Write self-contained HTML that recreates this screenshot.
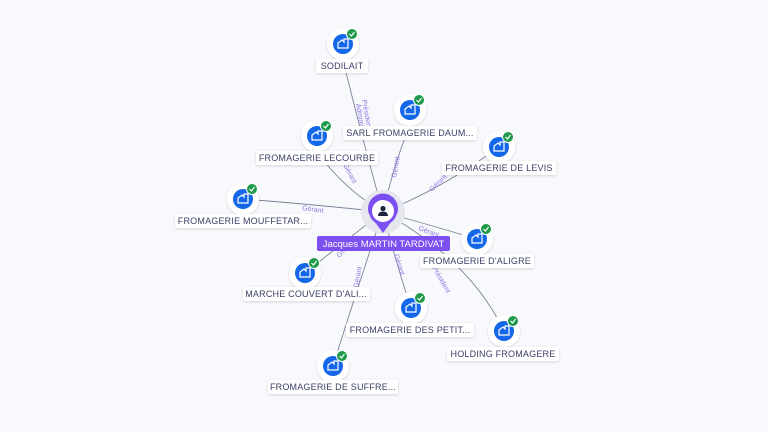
<!DOCTYPE html>
<html><head><meta charset="utf-8"><style>
html,body{margin:0;padding:0;background:#f8f9fd;}
svg{display:block;font-family:"Liberation Sans",sans-serif;}
.lbl{font-size:9px;fill:#3a3f66;letter-spacing:0.2px}
.el{font-size:7px;fill:#8a78e0}
</style></head><body>
<svg width="768" height="432" viewBox="0 0 768 432" xmlns="http://www.w3.org/2000/svg">
<defs>
<filter id="sh" x="-30%" y="-30%" width="160%" height="160%"><feDropShadow dx="0" dy="1" stdDeviation="1.2" flood-color="#000" flood-opacity="0.15"/></filter>
<g id="ic">
<circle r="16" fill="#fff" filter="url(#sh)"/>
<circle r="10" fill="#1467e8"/>
<path d="M-5,4 L-5,-1 L-1,-4 L1,-2 L1,-5 L5,-5 L5,4 Z" fill="none" stroke="#fff" stroke-width="1.2"/>
<circle cx="9" cy="-10" r="5.5" fill="#1f9a4b" stroke="#fff" stroke-width="1"/>
<path d="M6.5,-10 L8.5,-8 L11.5,-12" fill="none" stroke="#fff" stroke-width="1.2"/>
</g>
</defs>
<g fill="none" stroke="#7d8299" stroke-width="0.9">
<path d="M383,212 Q365,150 343,60"/>
<path d="M383,212 Q395,160 410,126"/>
<path d="M383,212 Q345,190 317,152"/>
<path d="M383,212 Q440,190 499,147"/>
<path d="M383,212 Q320,205 243,199"/>
<path d="M383,212 Q430,225 477,239"/>
<path d="M383,212 Q340,245 305,273"/>
<path d="M383,212 Q395,260 411,308"/>
<path d="M383,212 Q470,260 504,331"/>
<path d="M383,212 Q360,280 333,366"/>
</g>
<g class="el">
<text transform="translate(356,104) rotate(80)">Administ.</text>
<text transform="translate(362,100) rotate(80)">Président</text>
<text transform="translate(396,178) rotate(-80)">Gérant</text>
<text transform="translate(343,165) rotate(62)">Gérant</text>
<text transform="translate(432,192) rotate(-45)">Gérant</text>
<text transform="translate(302,210) rotate(8)">Gérant</text>
<text transform="translate(418,230) rotate(20)">Gérant</text>
<text transform="translate(340,258) rotate(-55)">Gérant</text>
<text transform="translate(394,255) rotate(72)">Gérant</text>
<text transform="translate(432,268) rotate(60)">Président</text>
<text transform="translate(358,288) rotate(-80)">Gérant</text>
</g>
<use href="#ic" x="343" y="44"/>
<use href="#ic" x="410" y="110"/>
<use href="#ic" x="317" y="136"/>
<use href="#ic" x="499" y="147"/>
<use href="#ic" x="243" y="199"/>
<use href="#ic" x="477" y="239"/>
<use href="#ic" x="305" y="273"/>
<use href="#ic" x="411" y="308"/>
<use href="#ic" x="504" y="331"/>
<use href="#ic" x="333" y="366"/>
<g filter="url(#sh)" fill="#fff">
<rect x="316" y="59" width="52" height="14" rx="2"/>
<rect x="343" y="126" width="134" height="14" rx="2"/>
<rect x="256" y="151" width="122" height="14" rx="2"/>
<rect x="442" y="161" width="114" height="14" rx="2"/>
<rect x="175" y="214" width="136" height="14" rx="2"/>
<rect x="420" y="254" width="114" height="14" rx="2"/>
<rect x="243" y="287" width="127" height="14" rx="2"/>
<rect x="346" y="323" width="128" height="14" rx="2"/>
<rect x="447" y="347" width="112" height="14" rx="2"/>
<rect x="268" y="380" width="130" height="14" rx="2"/>
</g>
<g class="lbl" text-anchor="middle">
<text x="342" y="69">SODILAIT</text>
<text x="410" y="136">SARL FROMAGERIE DAUM...</text>
<text x="317" y="161">FROMAGERIE LECOURBE</text>
<text x="499" y="171">FROMAGERIE DE LEVIS</text>
<text x="243" y="224">FROMAGERIE MOUFFETAR...</text>
<text x="477" y="264">FROMAGERIE D'ALIGRE</text>
<text x="306" y="297">MARCHE COUVERT D'ALI...</text>
<text x="410" y="333">FROMAGERIE DES PETIT...</text>
<text x="503" y="357">HOLDING FROMAGERE</text>
<text x="333" y="390">FROMAGERIE DE SUFFRE...</text>
</g>
<circle cx="383" cy="212" r="22" fill="#e6e7ee"/>
<path d="M369,214 A15,15 0 1 1 397,214 L383,233 Z" fill="#7b4ff0"/>
<circle cx="383" cy="211" r="14" fill="#7b4ff0"/>
<circle cx="383" cy="211" r="11" fill="#fff"/>
<circle cx="383" cy="208.5" r="2.6" fill="#1d2440"/>
<path d="M378,216 Q378,211.5 383,211.5 Q388,211.5 388,216 Z" fill="#1d2440"/>
<rect x="317" y="236" width="133" height="15" rx="2" fill="#7b4ff0"/>
<text x="383.5" y="247" text-anchor="middle" font-size="9.5" fill="#fff">Jacques MARTIN TARDIVAT</text>
</svg>
</body></html>
